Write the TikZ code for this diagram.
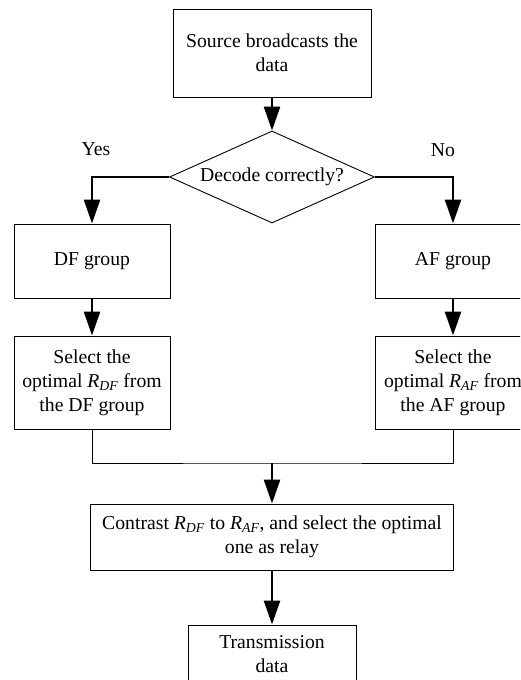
\documentclass[tikz,border=0pt]{standalone}
\usepackage{fontspec}
\setmainfont{Liberation Serif}
\usetikzlibrary{arrows.meta, positioning, shapes.geometric}
\tikzset{
  box/.style={draw, line width=0.9pt, align=center, inner sep=0pt, minimum width=156pt},
  flow/.style={-{Triangle[length=24pt, width=16pt]}, line width=2.6pt},
}
\newcommand{\Rsub}[1]{\textit{R}\textsubscript{\textit{#1}}}

\begin{document}
\begin{tikzpicture}[x=1pt, y=-1pt, font=\fontsize{19.7}{24}\selectfont]
  \useasboundingbox (0,0) rectangle (520,680);
  \clip (0,0) rectangle (520,680);

  % Start and decision
  \node[box, minimum width=198pt, minimum height=88pt] (src) at (272,53) {Source broadcasts the\\data};
  \node[diamond, draw, line width=0.9pt, aspect=2.2, inner sep=0pt,
        minimum width=205pt, minimum height=92pt] (dec) at (272,177) {Decode correctly?};
  \node (yes) at (96,149) {Yes};
  \node (no) at (443,150) {No};

  % Both groups
  \node[box, minimum height=74pt] (df) at (92,261) {DF group};
  \node[box, minimum height=74pt] (af) at (453,261) {AF group};
  \node[box, minimum height=93pt] (seldf) at (92,382.5) {Select the\\optimal \Rsub{DF} from\\the DF group};
  \node[box, minimum height=93pt] (selaf) at (453,382.5) {Select the\\optimal \Rsub{AF} from\\the AF group};

  % Comparison and end
  \coordinate (mrg) at (272,463);
  \node[box, minimum width=363pt, minimum height=66pt] (cmp) at (272,537) {Contrast \Rsub{DF} to \Rsub{AF}, and select the optimal\\one as relay};
  \node[box, minimum width=168pt, minimum height=58pt] (tx) at (272,654) {Transmission\\data};

  \draw[flow] (src) -- (dec);
  \draw[flow] (dec.west) -| (df.north);
  \draw[flow] (dec.east) -| (af.north);
  \draw[flow] (df) -- (seldf);
  \draw[flow] (af) -- (selaf);
  \draw[line width=0.9pt] (seldf.south) |- (mrg) -| (selaf.south);
  \draw[flow] (mrg) -- (cmp.north);
  \draw[flow] (cmp) -- (tx);
\end{tikzpicture}
\end{document}
